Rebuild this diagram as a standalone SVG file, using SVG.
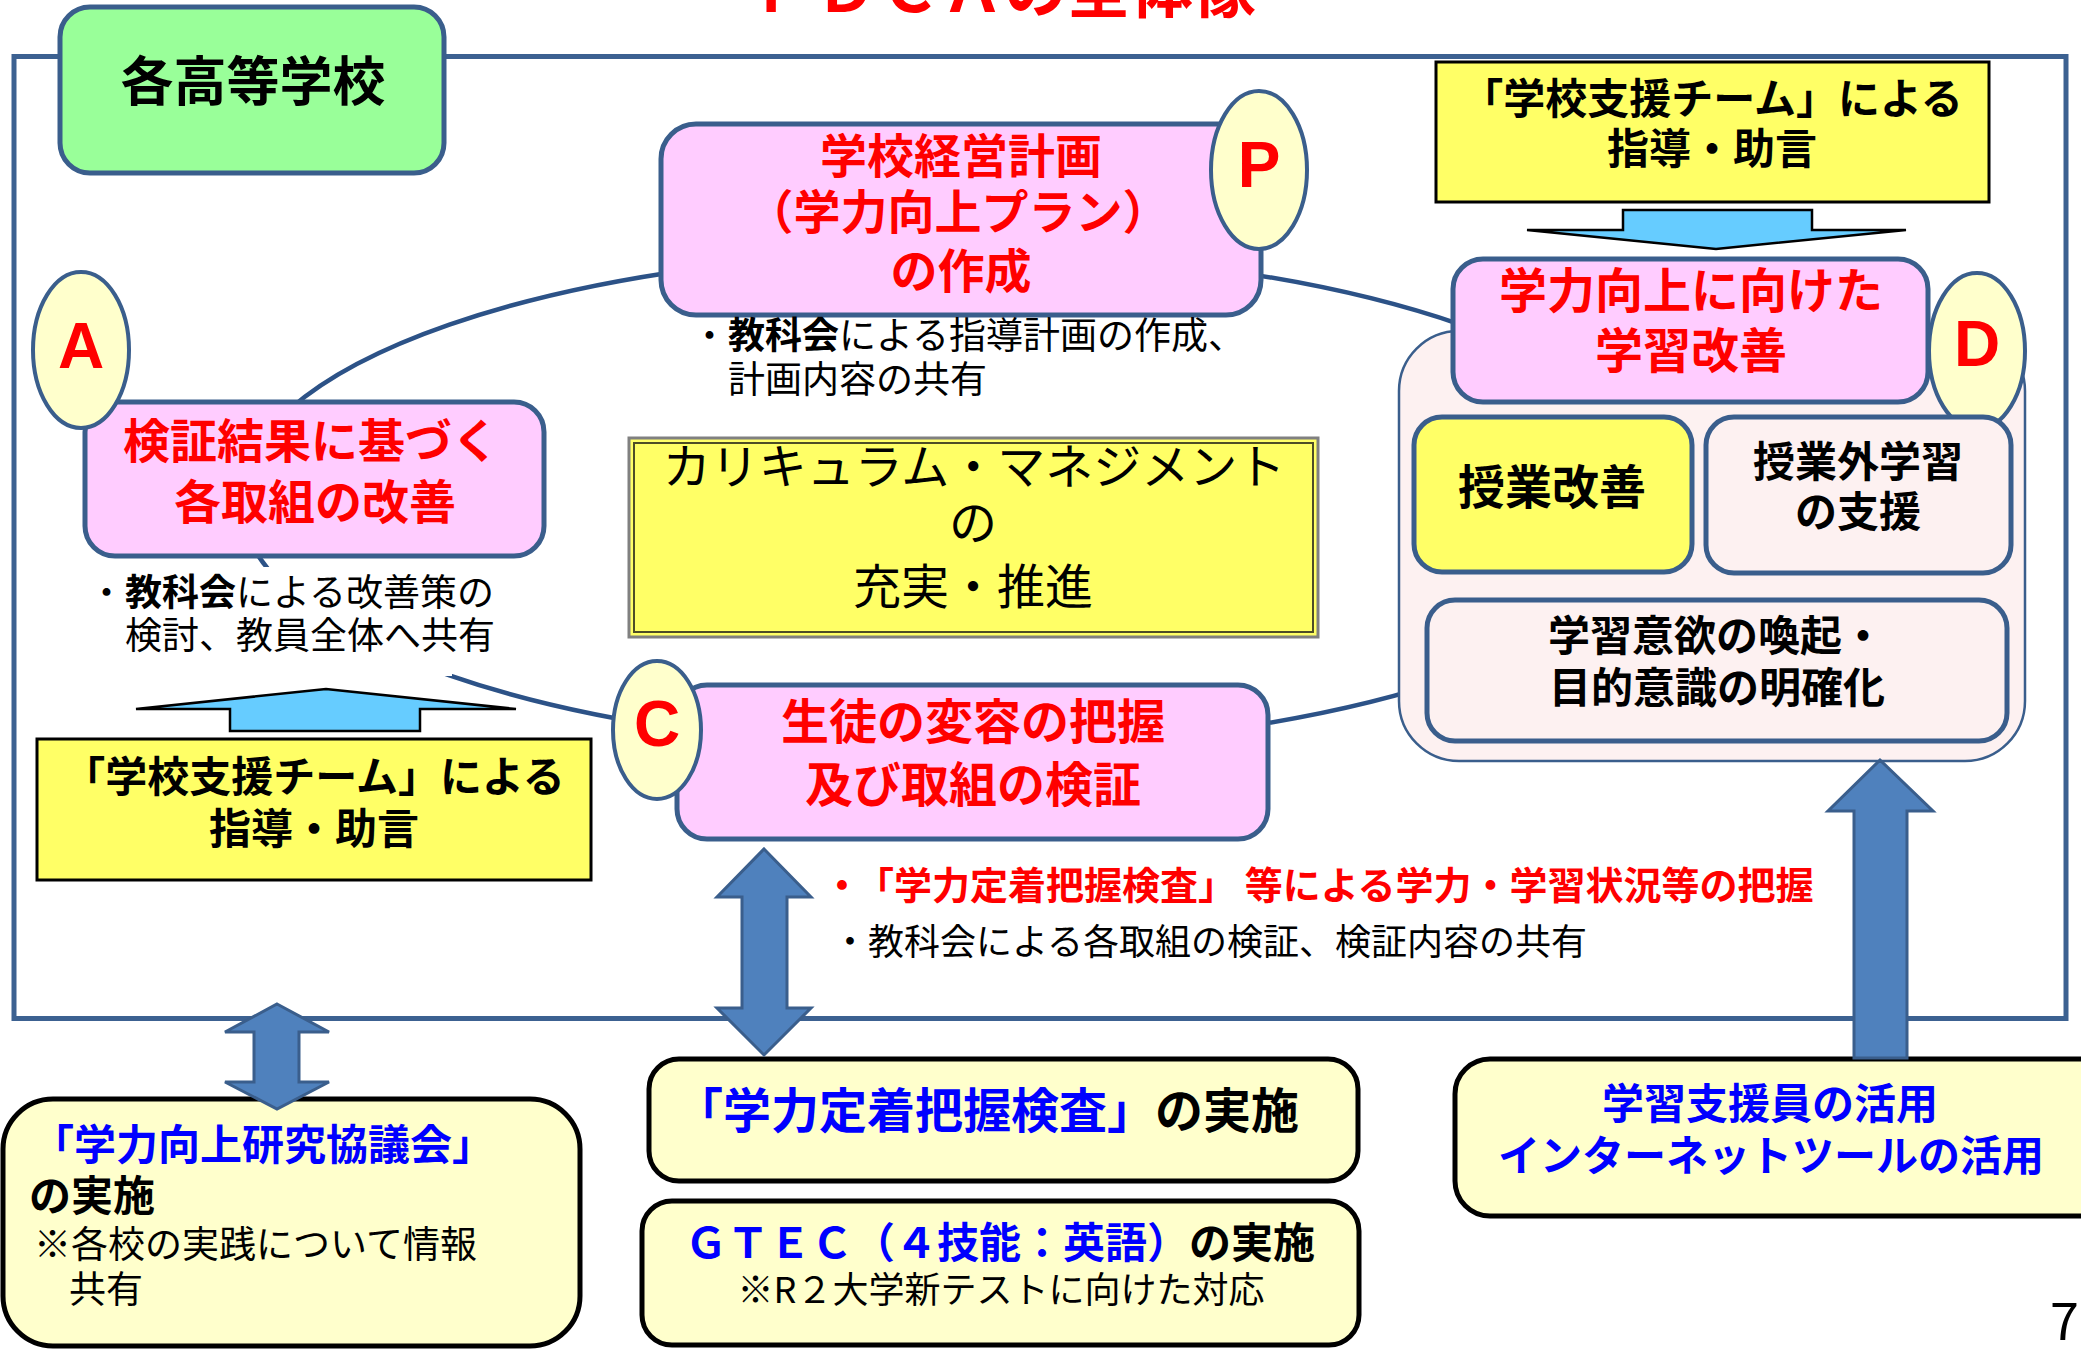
<svg xmlns="http://www.w3.org/2000/svg" width="2081" height="1349" viewBox="0 0 2081 1349">
<style>
text{font-family:"Noto Sans CJK JP","Noto Sans CJK SC",sans-serif}
.b{font-weight:700}
.red{fill:#FF0000}
.blue{fill:#0000FF}
.k{fill:#000}
.m{text-anchor:middle}
.pink{fill:#FFCCFF;stroke:#3A5E8C;stroke-width:5}
.oval{fill:#FFFFCC;stroke:#3A5E8C;stroke-width:4}
.letter{font-family:"Liberation Sans",Arial,sans-serif;font-weight:700;font-size:64px;fill:#FF0000;text-anchor:middle}
.blk{fill:#4F81BD;stroke:#3A5E8C;stroke-width:3;stroke-linejoin:miter}
.lb{fill:#66CCFF;stroke:#000;stroke-width:2.5}
.yb{fill:#FFFF66;stroke:#000;stroke-width:3}
.cream{fill:#FFFFCC;stroke:#000;stroke-width:5}
.lp{fill:#FDF1F1;stroke:#3A5E8C;stroke-width:5}
</style>
<rect width="2081" height="1349" fill="#fff"/>
<!-- title -->
<text x="752" y="12" class="b red" font-size="63">ＰＤＣＡの全体像</text>
<!-- frame -->
<rect x="14" y="56.5" width="2052" height="962" fill="none" stroke="#3C6191" stroke-width="5"/>
<!-- connectors -->
<g id="connectors">
<ellipse cx="955" cy="500" rx="715" ry="248" fill="none" stroke="#2C5287" stroke-width="4.5"/>
<rect x="92" y="567" width="360" height="109" fill="#fff"/>
</g>
<!-- D container -->
<g id="d-container">
<rect x="1399" y="331" width="626" height="430" rx="60" fill="#FDF1F1" stroke="#3A5E8C" stroke-width="2.5"/>
</g>
<g id="school">
<rect x="60" y="7" width="384" height="166" rx="30" fill="#99FF99" stroke="#3A5E8C" stroke-width="5"/>
<text x="253" y="101" class="b m" font-size="53">各高等学校</text>
</g>
<g id="plan">
<rect x="661" y="124" width="600" height="191" rx="35" class="pink"/>
<text x="961" y="173" class="b red m" font-size="47">学校経営計画</text>
<text x="958" y="229" class="b red m" font-size="47">（学力向上プラン）</text>
<text x="961" y="288" class="b red m" font-size="47">の作成</text>
<ellipse cx="1259" cy="170" rx="48" ry="79" class="oval"/>
<text x="1259" y="187" class="letter">P</text>
</g>
<g id="plan-note">
<text x="691" y="349" font-size="37">・<tspan class="b">教科会</tspan>による指導計画の作成、</text>
<text x="728" y="393" font-size="37">計画内容の共有</text>
</g>
<g id="act">
<rect x="85" y="402" width="459" height="154" rx="30" class="pink"/>
<text x="311" y="458" class="b red m" font-size="47">検証結果に基づく</text>
<text x="315" y="519" class="b red m" font-size="47">各取組の改善</text>
<ellipse cx="81" cy="350" rx="48" ry="78" class="oval"/>
<text x="81" y="368" class="letter">A</text>
</g>
<g id="act-note">
<text x="88" y="606" font-size="37">・<tspan class="b">教科会</tspan>による改善策の</text>
<text x="125" y="649" font-size="37">検討、教員全体へ共有</text>
</g>
<g id="support-left">
<rect x="37" y="739" width="554" height="141" class="yb"/>
<text x="314" y="792" class="b m" font-size="42">「学校支援チーム」による</text>
<text x="314" y="844" class="b m" font-size="42">指導・助言</text>
</g>
<g id="support-right">
<rect x="1436" y="62" width="553" height="140" class="yb"/>
<text x="1712" y="114" class="b m" font-size="42">「学校支援チーム」による</text>
<text x="1712" y="164" class="b m" font-size="42">指導・助言</text>
</g>
<g id="curriculum">
<rect x="629" y="438" width="689" height="199" fill="#FFFF66" stroke="#808080" stroke-width="3"/>
<rect x="634" y="443" width="679" height="189" fill="none" stroke="#4D4D26" stroke-width="2"/>
<text x="974" y="484" class="m" font-size="48">カリキュラム・マネジメント</text>
<text x="973" y="540" class="m" font-size="48">の</text>
<text x="973" y="604" class="m" font-size="48">充実・推進</text>
</g>
<g id="check">
<rect x="677" y="685" width="591" height="154" rx="30" class="pink"/>
<text x="973" y="739" class="b red m" font-size="48">生徒の変容の把握</text>
<text x="973" y="802" class="b red m" font-size="48">及び取組の検証</text>
<ellipse cx="657" cy="730" rx="44" ry="69" class="oval"/>
<text x="657" y="746" class="letter">C</text>
</g>
<g id="check-note">
<text x="823" y="899" class="b red" font-size="38">・<tspan dx="14">「学力定着把握検査」 等による学力・学習状況等の把握</tspan></text>
<text x="832" y="955" font-size="36">・教科会による各取組の検証、検証内容の共有</text>
</g>
<g id="do">
<rect x="1453" y="259" width="475" height="143" rx="30" class="pink"/>
<text x="1691" y="308" class="b red m" font-size="48">学力向上に向けた</text>
<text x="1691" y="368" class="b red m" font-size="48">学習改善</text>
<ellipse cx="1977" cy="351" rx="48" ry="78" class="oval"/>
<text x="1977" y="366" class="letter">D</text>
</g>
<g id="lesson">
<rect x="1414" y="417" width="278" height="155" rx="28" fill="#FFFF66" stroke="#3A5E8C" stroke-width="5"/>
<text x="1552" y="504" class="b m" font-size="47">授業改善</text>
</g>
<g id="outside">
<rect x="1706" y="417" width="305" height="156" rx="28" class="lp"/>
<text x="1858" y="477" class="b m" font-size="42">授業外学習</text>
<text x="1858" y="527" class="b m" font-size="42">の支援</text>
</g>
<g id="motivation">
<rect x="1427" y="600" width="580" height="141" rx="28" class="lp"/>
<text x="1548" y="651" class="b" font-size="42">学習意欲の喚起・</text>
<text x="1717" y="703" class="b m" font-size="42">目的意識の明確化</text>
</g>
<g id="council">
<rect x="3" y="1099" width="577" height="247" rx="50" class="cream"/>
<text x="32" y="1160" class="b blue" font-size="42">「学力向上研究協議会」</text>
<text x="29" y="1211" class="b" font-size="42">の実施</text>
<text x="34" y="1258" font-size="37">※各校の実践について情報</text>
<text x="69" y="1303" font-size="37">共有</text>
</g>
<g id="test">
<rect x="649" y="1059" width="709" height="122" rx="30" class="cream"/>
<text x="675" y="1128" class="b" font-size="48"><tspan class="blue">「学力定着把握検査」</tspan>の実施</text>
</g>
<g id="gtec">
<rect x="642" y="1201" width="717" height="144" rx="30" class="cream"/>
<text x="685" y="1258" class="b" font-size="42"><tspan class="blue">ＧＴＥＣ（４技能：英語）</tspan>の実施</text>
<text x="1001" y="1303" class="m" font-size="36">※R２大学新テストに向けた対応</text>
</g>
<g id="assist">
<rect x="1455" y="1059" width="660" height="157" rx="35" class="cream"/>
<text x="1770" y="1119" class="b blue m" font-size="42">学習支援員の活用</text>
<text x="1771" y="1171" class="b blue m" font-size="42">インターネットツールの活用</text>
</g>
<g id="arrows">
<polygon class="lb" points="136,709 326,689 516,709 420,709 420,731 230,731 230,709"/>
<polygon class="lb" points="1527,230 1623,230 1623,210 1812,210 1812,230 1906,230 1716,249"/>
<polygon class="blk" points="277,1004 329,1032 299,1032 299,1082 329,1082 277,1109 225,1082 254,1082 254,1032 225,1032"/>
<polygon class="blk" points="764,849 811,897 787,897 787,1008 811,1008 764,1055 717,1008 742,1008 742,897 717,897"/>
<polygon class="blk" points="1880,760 1933,811 1907,811 1907,1058 1854,1058 1854,811 1828,811"/>
</g>
<text x="2050" y="1340" font-family="DejaVu Sans,sans-serif" font-size="52" fill="#000">7</text>
</svg>
